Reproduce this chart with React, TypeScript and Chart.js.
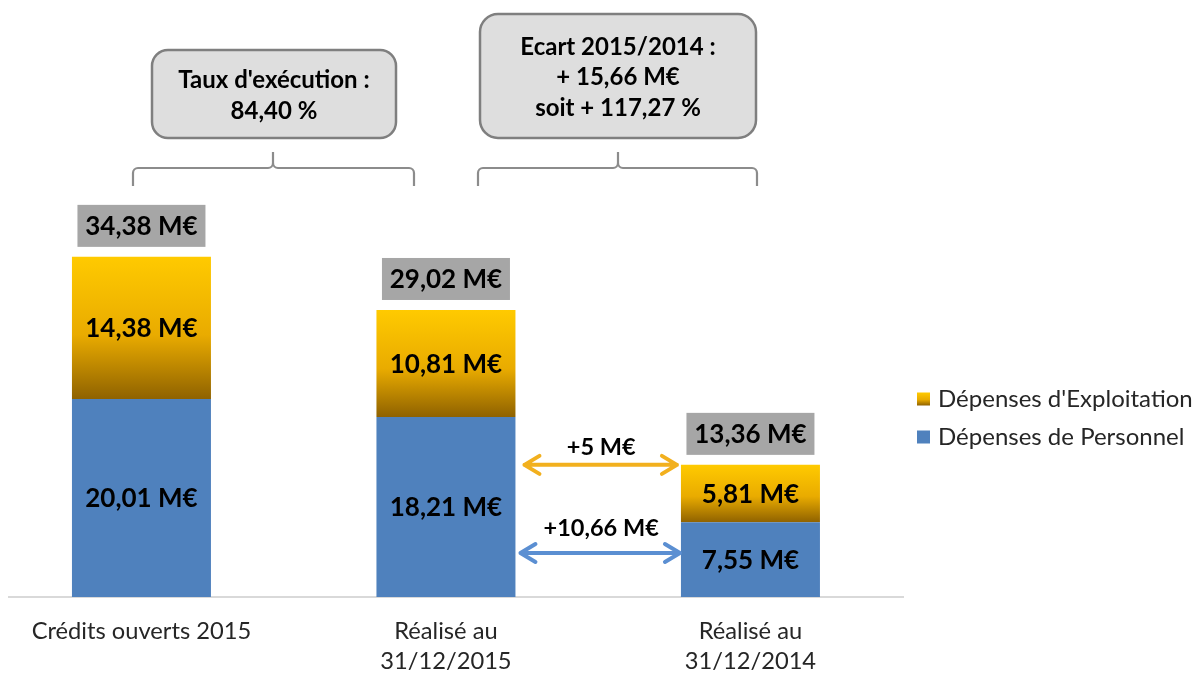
import React, { useEffect, useRef } from "react";
import { Chart, registerables } from "chart.js";

Chart.register(...registerables);

// ---- data ----
const CATEGORIES: string[][] = [
  ["Crédits ouverts 2015"],
  ["Réalisé au", "31/12/2015"],
  ["Réalisé au", "31/12/2014"],
];
const SERIES_NAMES = ["Dépenses de Personnel", "Dépenses d'Exploitation"];
const PERSONNEL = [20.01, 18.21, 7.55];
const EXPLOITATION = [14.38, 10.81, 5.81];
const TOTALS = [34.38, 29.02, 13.36];
const DELTA_LABELS = ["+5 M€", "+10,66 M€"];
const CALLOUT_EXEC = ["Taux d'exécution :", "84,40 %"];
const CALLOUT_ECART = ["Ecart 2015/2014 :", "+ 15,66 M€", "soit + 117,27 %"];

// ---- styles ----
const FAMILY = 'Lato, "Open Sans", sans-serif';
const BLUE = "#4f81bd";
const GOLD_STOPS: [number, string][] = [
  [0, "#ffca00"],
  [0.55, "#e9ab00"],
  [1, "#8f6200"],
];
const TEXT_DARK = "#262626";

const fmt = (v: number) => v.toFixed(2).replace(".", ",") + " M€";

function goldGradient(c: CanvasRenderingContext2D, top: number, bottom: number) {
  const g = c.createLinearGradient(0, top, 0, bottom);
  GOLD_STOPS.forEach(([o, col]) => g.addColorStop(o, col));
  return g;
}

function roundRect(c: CanvasRenderingContext2D, x: number, y: number, w: number, h: number, r: number) {
  c.beginPath();
  c.moveTo(x + r, y);
  c.lineTo(x + w - r, y);
  c.arcTo(x + w, y, x + w, y + r, r);
  c.lineTo(x + w, y + h - r);
  c.arcTo(x + w, y + h, x + w - r, y + h, r);
  c.lineTo(x + r, y + h);
  c.arcTo(x, y + h, x, y + h - r, r);
  c.lineTo(x, y + r);
  c.arcTo(x, y, x + r, y, r);
  c.closePath();
}

function brace(c: CanvasRenderingContext2D, x1: number, x2: number, xm: number, yLine: number, yEnd: number, yTip: number) {
  const r = 5;
  c.beginPath();
  c.moveTo(x1, yEnd);
  c.lineTo(x1, yLine + r);
  c.arcTo(x1, yLine, x1 + r, yLine, r);
  c.lineTo(xm - r, yLine);
  c.arcTo(xm, yLine, xm, yLine - r, r);
  c.lineTo(xm, yTip);
  c.moveTo(xm, yLine - r);
  c.arcTo(xm, yLine, xm + r, yLine, r);
  c.lineTo(x2 - r, yLine);
  c.arcTo(x2, yLine, x2, yLine + r, r);
  c.lineTo(x2, yEnd);
  c.stroke();
}

function arrow(c: CanvasRenderingContext2D, xa: number, xb: number, y: number, color: string) {
  c.save();
  c.strokeStyle = color;
  c.lineWidth = 4;
  c.lineCap = "round";
  c.lineJoin = "round";
  c.beginPath();
  c.moveTo(xa, y);
  c.lineTo(xb, y);
  c.moveTo(xa + 15, y - 9);
  c.lineTo(xa, y);
  c.lineTo(xa + 15, y + 9);
  c.moveTo(xb - 15, y - 9);
  c.lineTo(xb, y);
  c.lineTo(xb - 15, y + 9);
  c.stroke();
  c.restore();
}

const annotatePlugin = {
  id: "annotate",
  afterDatasetsDraw(chart: any) {
    const c: CanvasRenderingContext2D = chart.ctx;
    const yScale = chart.scales.y;
    const values = [PERSONNEL, EXPLOITATION];
    c.save();
    c.textAlign = "center";
    c.textBaseline = "middle";

    // segment labels
    c.font = `bold 26px ${FAMILY}`;
    c.fillStyle = "#000";
    [0, 1].forEach((ds) => {
      chart.getDatasetMeta(ds).data.forEach((el: any, i: number) => {
        const p = el.getProps(["x", "y", "base"], true);
        c.fillText(fmt(values[ds][i]), p.x, (p.y + p.base) / 2 + 1);
      });
    });

    // totals
    chart.getDatasetMeta(1).data.forEach((el: any, i: number) => {
      const p = el.getProps(["x", "y"], true);
      const w = 128, h = 42;
      const by = p.y - 10 - h;
      c.fillStyle = "#a6a6a6";
      c.fillRect(p.x - w / 2, by, w, h);
      c.fillStyle = "#000";
      c.fillText(fmt(TOTALS[i]), p.x, by + h / 2 + 1);
    });

    // delta arrows between 2015 and 2014
    const b2: any = chart.getDatasetMeta(0).data[1];
    const b3: any = chart.getDatasetMeta(0).data[2];
    const right2 = b2.x + b2.width / 2;
    const left3 = b3.x - b3.width / 2;
    const yOrange = yScale.getPixelForValue(TOTALS[2]);
    const yBlue = yScale.getPixelForValue(4.45);
    arrow(c, right2 + 9, left3 - 4, yOrange, "#f2b01e");
    arrow(c, right2 + 5, left3 - 1, yBlue, "#5b8fd2");
    c.font = `bold 23.5px ${FAMILY}`;
    c.fillStyle = "#000";
    c.fillText(DELTA_LABELS[0], (right2 + left3) / 2 + 3, yOrange - 17);
    c.fillText(DELTA_LABELS[1], (right2 + left3) / 2 + 3, yBlue - 25);

    // callout boxes
    c.lineWidth = 2.5;
    c.strokeStyle = "#7f7f7f";
    c.fillStyle = "#dedede";
    roundRect(c, 152, 50, 244, 88, 16);
    c.fill();
    c.stroke();
    roundRect(c, 480, 14, 276, 124, 18);
    c.fillStyle = "#dedede";
    c.fill();
    c.stroke();

    c.fillStyle = "#000";
    c.font = `bold 24px ${FAMILY}`;
    CALLOUT_EXEC.forEach((t, k) => c.fillText(t, 274, 80 + k * 31));
    CALLOUT_ECART.forEach((t, k) => c.fillText(t, 618, 47 + k * 30.5));

    // braces
    c.strokeStyle = "#8c8c8c";
    c.lineWidth = 2.2;
    brace(c, 133, 414, 273, 168, 186, 152);
    brace(c, 478, 757, 618, 168, 186, 152);

    // legend
    c.textAlign = "left";
    c.font = `24px ${FAMILY}`;
    const legendRows = [
      { name: SERIES_NAMES[1], gold: true, y: 399 },
      { name: SERIES_NAMES[0], gold: false, y: 437 },
    ];
    legendRows.forEach((r) => {
      c.fillStyle = r.gold ? goldGradient(c, r.y - 6.5, r.y + 6.5) : BLUE;
      c.fillRect(917, r.y - 6.5, 13, 13);
      c.fillStyle = TEXT_DARK;
      c.fillText(r.name, 938, r.y);
    });

    c.restore();
  },
};

export default function App() {
  const ref = useRef<HTMLCanvasElement | null>(null);

  useEffect(() => {
    document.body.style.margin = "0";
    const canvas = ref.current;
    if (!canvas) return;
    const chart = new Chart(canvas, {
      type: "bar",
      data: {
        datasets: [
          {
            label: SERIES_NAMES[0],
            data: PERSONNEL.map((v, i) => ({ x: i, y: v })),
            backgroundColor: BLUE,
            borderWidth: 0,
          },
          {
            label: SERIES_NAMES[1],
            data: EXPLOITATION.map((v, i) => ({ x: i, y: v })),
            backgroundColor: (ctx: any) => {
              const ys = ctx.chart.scales?.y;
              if (!ys || ctx.type !== "data") return GOLD_STOPS[1][1];
              const i = ctx.dataIndex;
              const top = ys.getPixelForValue(PERSONNEL[i] + EXPLOITATION[i]);
              const bot = ys.getPixelForValue(PERSONNEL[i]);
              if (!isFinite(top) || !isFinite(bot)) return GOLD_STOPS[1][1];
              return goldGradient(ctx.chart.ctx, top, bot);
            },
            borderWidth: 0,
          },
        ],
      },
      options: {
        responsive: false,
        animation: false,
        devicePixelRatio: 1,
        layout: { padding: { left: 9, right: 292, top: 10, bottom: 0 } },
        datasets: { bar: { barPercentage: 1, categoryPercentage: 0.4565 } },
        plugins: {
          legend: { display: false },
          tooltip: { enabled: false },
        },
        scales: {
          x: {
            type: "linear",
            offset: false,
            stacked: true,
            min: -0.435,
            max: 2.501,
            grid: { display: false, drawTicks: false, offset: false },
            border: { display: true, color: "#d9d9d9", width: 2 },
            afterFit: (s: any) => {
              s.height = 76;
            },
            ticks: {
              stepSize: 1,
              includeBounds: false,
              autoSkip: false,
              maxRotation: 0,
              padding: 19,
              color: TEXT_DARK,
              font: { family: FAMILY, size: 23.7, lineHeight: 1.27 },
              callback: (v: any) => CATEGORIES[v as number] ?? "",
            },
          },
          y: {
            display: false,
            stacked: true,
            min: 0,
            max: 59.35,
          },
        },
      },
      plugins: [annotatePlugin],
    });
    return () => chart.destroy();
  }, []);

  return (
    <div style={{ position: "absolute", left: 0, top: 0, width: 1195, height: 673, background: "#fff" }}>
      <canvas ref={ref} width={1195} height={673} />
    </div>
  );
}
